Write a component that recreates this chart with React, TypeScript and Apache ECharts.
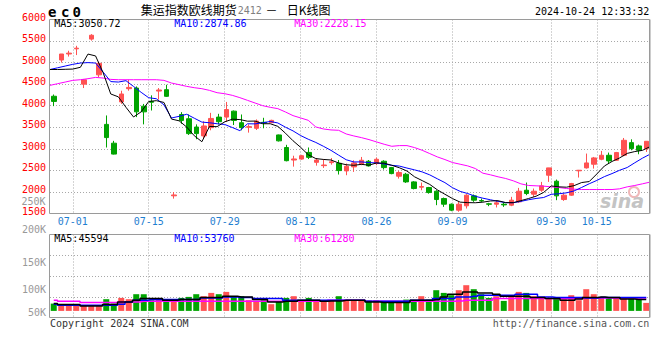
import React, { useEffect, useRef } from "react";
import * as echarts from "echarts";

const dates = [
  "06-26","06-27","06-28",
  "07-01","07-02","07-03","07-04","07-05",
  "07-08","07-09","07-10","07-11","07-12",
  "07-15","07-16","07-17","07-18","07-19",
  "07-22","07-23","07-24","07-25","07-26",
  "07-29","07-30","07-31","08-01","08-02",
  "08-05","08-06","08-07","08-08","08-09",
  "08-12","08-13","08-14","08-15","08-16",
  "08-19","08-20","08-21","08-22","08-23",
  "08-26","08-27","08-28","08-29","08-30",
  "09-02","09-03","09-04","09-05","09-06",
  "09-09","09-10","09-11","09-12","09-13",
  "09-18","09-19","09-20",
  "09-23","09-24","09-25","09-26","09-27",
  "09-30",
  "10-08","10-09","10-10","10-11",
  "10-14","10-15","10-16","10-17","10-18",
  "10-21","10-22","10-23","10-24",
];

const dateTickLabels = ["07-01", "07-15", "07-29", "08-12", "08-26", "09-09", "09-30", "10-15"];
const priceTicks = [1500, 2000, 2500, 3000, 3500, 4000, 4500, 5000, 5500, 6000];
const volumeTicks = [50000, 100000, 150000, 200000];

const opens = [
  4220, 5060, 5200, 5320, 4500, 5545, 4716, 3567, 3131, 4088,
  4395, 4410, 3989, 4100, 4340, 4372, 1910, 3797, 3698, 3506,
  3300, 3491, 3736, 3736, 3874, 3606, 3500, 3476, 3615, 3606,
  3322, 3031, 2740, 2763, 2917, 2687, 2610, 2680, 2664, 2488,
  2581, 2643, 2712, 2658, 2712, 2565, 2365, 2411, 2233, 2110,
  2102, 2017, 1847, 1716, 1577, 1678, 1909, 1800, 1725, 1716,
  1716, 1693, 1770, 2040, 1948, 2040, 2388, 2249, 1824, 1925,
  2490, 2558, 2643, 2758, 2851, 2735, 2851, 3144, 3067, 3005,
];
const closes = [
  4100, 5200, 5220, 5335, 4600, 5635, 4984, 3261, 2878, 4272,
  4425, 3858, 3858, 4080, 4365, 4218, 1930, 3659, 3353, 3353,
  3530, 3705, 3629, 3912, 3659, 3491, 3515, 3644, 3600, 3660,
  3185, 2725, 2765, 2840, 2802, 2740, 2625, 2700, 2495, 2596,
  2673, 2735, 2604, 2758, 2565, 2426, 2450, 2233, 2079, 2125,
  1986, 1824, 1716, 1577, 1716, 1925, 1809, 1790, 1715, 1747,
  1700, 1809, 2017, 1963, 2017, 2141, 2558, 1909, 1925, 2195,
  2503, 2673, 2789, 2851, 2720, 2913, 3198, 3005, 2967, 3175,
];
const lows = [
  3990, 5000, 5140, 5175, 4410, 5510, 4662, 3031, 2870, 4042,
  4348, 3736, 3567, 3889, 4142, 4203, 1845, 3583, 3322, 3223,
  3250, 3430, 3567, 3629, 3552, 3430, 3376, 3437, 3476, 3600,
  3170, 2710, 2587, 2748, 2763, 2610, 2557, 2633, 2404, 2388,
  2465, 2620, 2590, 2620, 2520, 2410, 2310, 2210, 2060, 2040,
  1960, 1693, 1654, 1554, 1540, 1616, 1770, 1770, 1670, 1640,
  1654, 1670, 1747, 1925, 1886, 2002, 2233, 1809, 1793, 1909,
  2334, 2542, 2542, 2735, 2658, 2720, 2828, 2967, 2874, 2928,
];
const highs = [
  4260, 5200, 5275, 5390, 4620, 5660, 5022, 3774, 3185, 4348,
  4601, 4448, 4042, 4241, 4410, 4486, 1998, 3851, 3797, 3567,
  3640, 3835, 3812, 4088, 3889, 3797, 3567, 3682, 3720, 3675,
  3330, 3093, 2840, 2860, 3031, 2786, 2763, 2786, 2740, 2658,
  2735, 2812, 2740, 2797, 2735, 2580, 2488, 2442, 2250, 2218,
  2117, 2040, 1870, 1732, 1770, 1948, 1940, 1847, 1747, 1809,
  1747, 1886, 2094, 2218, 2079, 2233, 2560, 2287, 1963, 2210,
  2510, 2890, 2812, 2951, 2913, 2928, 3252, 3221, 3098, 3175,
];

const ma5 = [
  4840, 4840, 4845, 4850, 4891, 5198, 5155, 4763, 4272, 4206,
  3964, 3739, 3858, 4099, 4117, 4076, 3690, 3650, 3505, 3303,
  3165, 3520, 3514, 3626, 3687, 3679, 3641, 3644, 3582, 3582,
  3521, 3363, 3187, 3035, 2863, 2774, 2754, 2741, 2672, 2631,
  2618, 2640, 2621, 2673, 2667, 2618, 2561, 2486, 2351, 2263,
  2175, 2049, 1946, 1846, 1764, 1752, 1749, 1763, 1791, 1797,
  1752, 1752, 1798, 1847, 1901, 1989, 2139, 2118, 2110, 2146,
  2218, 2241, 2417, 2602, 2707, 2789, 2894, 2937, 2964, 3051,
];
const ma10 = [
  4840, 4880, 4920, 4960, 4990, 5000, 4990, 4780, 4560, 4549,
  4581, 4447, 4311, 4185, 4162, 4020, 3715, 3754, 3802, 3710,
  3620, 3605, 3582, 3565, 3495, 3422, 3581, 3579, 3604, 3635,
  3600, 3502, 3416, 3308, 3223, 3148, 3059, 2964, 2854, 2747,
  2696, 2697, 2681, 2673, 2649, 2618, 2600, 2554, 2512, 2465,
  2396, 2305, 2216, 2098, 2013, 1963, 1899, 1855, 1818, 1781,
  1752, 1750, 1781, 1819, 1849, 1871, 1946, 1958, 1979, 2023,
  2104, 2190, 2267, 2356, 2426, 2503, 2567, 2677, 2783, 2875,
];
const ma30 = [
  4472, 4511, 4549, 4588, 4603, 4627, 4657, 4642, 4611, 4603,
  4603, 4603, 4603, 4603, 4603, 4588, 4526, 4488, 4449, 4418,
  4395, 4356, 4302, 4279, 4241, 4187, 4125, 4063, 4001, 3963,
  3932, 3855, 3770, 3716, 3662, 3507, 3461, 3438, 3430, 3345,
  3299, 3260, 3214, 3160, 3106, 3059, 3075, 3075, 3029, 2967,
  2890, 2813, 2751, 2682, 2643, 2604, 2543, 2435, 2397, 2351,
  2312, 2258, 2188, 2150, 2142, 2134, 2118, 2103, 2080, 2064,
  2056, 2056, 2056, 2056, 2056, 2072, 2118, 2150, 2188, 2228,
];

const volumes = [
  29200, 26800, 22800, 22900, 22600, 18800, 18700, 46800, 29200, 52000,
  46800, 66800, 66700, 42800, 49200, 42700, 36000, 52000, 56000, 66800,
  58800, 72000, 66800, 76000, 56000, 58800, 42800, 36000, 42700, 26800,
  36000, 52000, 58800, 36000, 52000, 42800, 42700, 42800, 58800, 43100,
  42500, 43600, 41900, 42800, 36000, 36200, 35800, 45200, 36000, 58800,
  45200, 82800, 72000, 62800, 82800, 102800, 86800, 66800, 52000, 58800,
  40000, 62800, 76000, 72000, 58800, 49200, 49300, 49100, 46800, 62800,
  42800, 86800, 66800, 52000, 52100, 51900, 49200, 49300, 49100, 32000,
];
const volMa5 = [
  29300, 25300, 25300, 25300, 20000, 20000, 20000, 25300, 25300, 36000,
  36000, 42700, 49300, 49300, 49300, 42700, 42700, 45300, 45300, 45300,
  53300, 53300, 53300, 58700, 58700, 56000, 56000, 45300, 45300, 36000,
  36000, 38700, 38700, 42700, 42700, 42700, 38700, 40000, 40000, 42700,
  42700, 42700, 36000, 36000, 33300, 33300, 33300, 33300, 42700, 42700,
  42700, 45300, 56000, 66700, 66700, 76000, 76000, 72000, 72000, 66700,
  58700, 58700, 58700, 58700, 53300, 53300, 49300, 49300, 42700, 42700,
  48000, 53300, 53300, 56000, 53300, 53300, 48000, 48000, 45600, 45600,
];
const volMa10 = [
  26700, 22700, 22700, 22700, 22700, 22700, 22700, 22700, 22700, 26700,
  36000, 42700, 42700, 45300, 45300, 45300, 45300, 45300, 45300, 45300,
  52000, 52000, 52000, 56000, 56000, 53300, 53300, 49300, 49300, 49300,
  49300, 42700, 42700, 42700, 42700, 42700, 42700, 42700, 42700, 42700,
  42700, 42700, 38700, 38700, 38700, 38700, 38700, 38700, 42700, 42700,
  42700, 49300, 49300, 49300, 56000, 56000, 58700, 62700, 62700, 62700,
  62700, 62700, 66700, 66700, 66700, 56000, 56000, 53300, 53300, 53300,
  53300, 52000, 52000, 53300, 53300, 53300, 53300, 53300, 53300, 53760,
];
const volMa30 = [
  42700, 38700, 38700, 38700, 33300, 33300, 33300, 33300, 33300, 36000,
  36000, 36000, 38700, 38700, 38700, 38700, 38700, 38700, 38700, 38700,
  38700, 38700, 38700, 38700, 38700, 38700, 38700, 38700, 38700, 38700,
  38700, 38700, 38700, 38700, 38700, 38700, 38700, 42700, 42700, 42700,
  42700, 42700, 38700, 38700, 38700, 38700, 38700, 38700, 38700, 38700,
  38700, 38700, 38700, 38700, 40000, 42700, 42700, 42700, 42700, 49300,
  49300, 49300, 49300, 49300, 49300, 49300, 49300, 49300, 49300, 49300,
  49300, 52000, 52000, 52000, 52000, 52000, 52000, 52000, 52000, 52000,
];

const RED = "#ff5252";
const GREEN = "#00a400";
const GRID = "#a8a8a8";
const FRAME = "#9a9a9a";
const DATE_BLUE = "#1f80d0";
const MONO = '"DejaVu Sans Mono", "Liberation Mono", monospace';
const CJK = '"Noto Sans CJK SC", sans-serif';

function txt(text: string, x: number, y: number, fill: string, opts: any = {}) {
  const fontSize = opts.fontSize ?? 10;
  return {
    type: "text",
    x,
    y,
    z: 20,
    silent: true,
    style: {
      text,
      fill,
      fontSize,
      lineHeight: fontSize,
      fontFamily: opts.fontFamily ?? MONO,
      fontWeight: opts.fontWeight ?? "normal",
      fontStyle: opts.fontStyle ?? "normal",
      align: opts.align ?? "left",
      verticalAlign: "middle",
      opacity: opts.opacity ?? 1,
    },
  };
}

export default function App() {
  const ref = useRef<HTMLDivElement>(null);

  useEffect(() => {
    if (!ref.current) return;
    const chart = echarts.init(ref.current, null, { renderer: "svg" });

    const tickIdx = new Set(dateTickLabels.map((d) => dates.indexOf(d)));
    const showTick = (i: number) => tickIdx.has(i);
    const dotted = { color: GRID, type: [1, 2], width: 1 };

    const candleData = dates.map((_, i) => [opens[i], closes[i], lows[i], highs[i]]);
    const volData = volumes.map((v, i) => ({
      value: v,
      itemStyle: { color: closes[i] >= opens[i] ? RED : GREEN },
    }));

    const option: any = {
      animation: false,
      backgroundColor: "#ffffff",
      grid: [
        { left: 50, top: 19.5, width: 600, height: 194 },
        { left: 50, top: 234.5, width: 600, height: 83 },
      ],
      xAxis: [
        { type: "category", gridIndex: 0, position: "bottom", data: dates, boundaryGap: true, show: false },
        {
          type: "category",
          gridIndex: 0,
          position: "bottom",
          data: dates,
          boundaryGap: false,
          axisLine: { show: false },
          axisTick: { show: false },
          axisLabel: {
            interval: showTick,
            color: DATE_BLUE,
            fontSize: 10,
            lineHeight: 10,
            fontFamily: MONO,
            margin: 3,
          },
          splitLine: { show: true, interval: showTick, lineStyle: dotted },
        },
        { type: "category", gridIndex: 1, position: "bottom", data: dates, boundaryGap: true, show: false },
        {
          type: "category",
          gridIndex: 1,
          position: "bottom",
          data: dates,
          boundaryGap: false,
          axisLine: { show: false },
          axisTick: { show: false },
          axisLabel: { show: false },
          splitLine: { show: true, interval: showTick, lineStyle: dotted },
        },
      ],
      yAxis: [
        {
          type: "value",
          gridIndex: 0,
          position: "left",
          min: priceTicks[0],
          max: priceTicks[priceTicks.length - 1],
          interval: priceTicks[1] - priceTicks[0],
          axisLine: { show: false },
          axisTick: { show: false },
          axisLabel: {
            color: "#ff0000",
            fontSize: 10,
            lineHeight: 5,
            verticalAlign: "bottom",
            fontFamily: MONO,
            margin: 4,
            formatter: (v: number) => String(v),
          },
          splitLine: { show: true, showMinLine: false, showMaxLine: false, lineStyle: dotted },
        },
        { type: "value", gridIndex: 1, position: "left", min: -26400, max: 305600, show: false },
        {
          type: "value",
          gridIndex: 1,
          position: "left",
          min: 0,
          max: 4,
          interval: 1,
          axisLine: { show: false },
          axisTick: { show: false },
          axisLabel: { show: false },
          splitLine: { show: true, showMinLine: false, showMaxLine: false, lineStyle: dotted },
        },
        {
          type: "value",
          gridIndex: 1,
          position: "left",
          offset: 0,
          min: volumeTicks[0],
          max: volumeTicks[volumeTicks.length - 1],
          interval: volumeTicks[1] - volumeTicks[0],
          axisLine: { show: false },
          axisTick: { show: false },
          splitLine: { show: false },
          axisLabel: {
            color: "#999999",
            fontSize: 10,
            lineHeight: 10,
            fontFamily: MONO,
            margin: 4,
            formatter: (v: number) => v / 1000 + "K",
            verticalAlignMinLabel: "bottom",
            verticalAlignMaxLabel: "bottom",
          },
        },
      ],
      series: [
        {
          type: "candlestick",
          xAxisIndex: 0,
          yAxisIndex: 0,
          data: candleData,
          barWidth: 5,
          itemStyle: {
            color: RED,
            color0: GREEN,
            borderColor: RED,
            borderColor0: GREEN,
            borderWidth: 1,
          },
        },
        {
          type: "line", xAxisIndex: 1, yAxisIndex: 0, data: ma30, symbol: "none", silent: true,
          lineStyle: { color: "#ff00ff", width: 1 },
        },
        {
          type: "line", xAxisIndex: 1, yAxisIndex: 0, data: ma10, symbol: "none", silent: true,
          lineStyle: { color: "#0000ff", width: 1 },
        },
        {
          type: "line", xAxisIndex: 1, yAxisIndex: 0, data: ma5, symbol: "none", silent: true,
          lineStyle: { color: "#000000", width: 1 },
        },
        {
          type: "bar", xAxisIndex: 2, yAxisIndex: 1, data: volData, barWidth: 6, silent: true,
        },
        {
          type: "line", xAxisIndex: 2, yAxisIndex: 1, data: volMa30, symbol: "none", step: "middle", silent: true,
          lineStyle: { color: "#ff00ff", width: 1.5 },
        },
        {
          type: "line", xAxisIndex: 2, yAxisIndex: 1, data: volMa10, symbol: "none", step: "middle", silent: true,
          lineStyle: { color: "#0000ff", width: 1.5 },
        },
        {
          type: "line", xAxisIndex: 2, yAxisIndex: 1, data: volMa5, symbol: "none", step: "middle", silent: true,
          lineStyle: { color: "#000000", width: 1.5 },
        },
      ],
      graphic: [
        {
          type: "rect", z: 15, silent: true,
          shape: { x: 49.5, y: 19.5, width: 600, height: 194 },
          style: { fill: "none", stroke: FRAME, lineWidth: 1 },
        },
        {
          type: "rect", z: 15, silent: true,
          shape: { x: 49.5, y: 234.5, width: 600, height: 83 },
          style: { fill: "none", stroke: FRAME, lineWidth: 1 },
        },
        {
          type: "line", z: 15, silent: true,
          shape: { x1: 650, y1: 19.5, x2: 650, y2: 213.5 },
          style: { stroke: FRAME, lineWidth: 1 },
        },
        {
          type: "line", z: 15, silent: true,
          shape: { x1: 650, y1: 234.5, x2: 650, y2: 317.5 },
          style: { stroke: FRAME, lineWidth: 1 },
        },
        // sina watermark
        {
          type: "circle", z: 1, silent: true,
          shape: { cx: 634, cy: 192, r: 5 },
          style: { fill: "none", stroke: "#f0b8b8", lineWidth: 2 },
        },
        txt("sina", 600, 201, "#c4c4c4", { fontSize: 19, fontFamily: "DejaVu Sans", fontWeight: "bold", fontStyle: "italic" }),
        // header
        txt("e", 48, 11.5, "#000000", { fontSize: 14, fontWeight: "bold" }),
        txt("c", 61, 11.5, "#000000", { fontSize: 14, fontWeight: "bold" }),
        txt("0", 72.5, 11.5, "#000000", { fontSize: 14, fontWeight: "bold" }),
        txt("集运指数欧线期货", 140.7, 9.5, "#000000", { fontSize: 12, fontFamily: CJK }),
        txt("2412", 237.7, 10, "#808080", { fontSize: 10 }),
        txt("－", 265.5, 9.5, "#000000", { fontSize: 12, fontFamily: CJK }),
        txt("日K线图", 286.7, 9.5, "#000000", { fontSize: 12, fontFamily: CJK }),
        txt("2024-10-24 12:33:32", 649.3, 11.7, "#000000", { align: "right" }),
        // main MA legend
        txt("MA5:3050.72", 54.3, 23.5, "#000000"),
        txt("MA10:2874.86", 174.3, 23.5, "#0000ff"),
        txt("MA30:2228.15", 294.3, 23.5, "#ff00ff"),
        txt("250K", 45.5, 201.5, "#999999", { align: "right" }),
        // volume MA legend
        txt("MA5:45594", 54.3, 238.5, "#000000"),
        txt("MA10:53760", 174.3, 238.5, "#0000ff"),
        txt("MA30:61280", 294.3, 238.5, "#ff00ff"),
        // footer
        txt("Copyright 2024 SINA.COM", 50, 323.5, "#333333"),
        txt("http://finance.sina.com.cn", 649.3, 323.5, "#555555", { align: "right" }),
      ],
    };

    chart.setOption(option);
    return () => chart.dispose();
  }, []);

  return (
    <div
      ref={ref}
      style={{ position: "absolute", left: 0, top: 0, width: 660, height: 360, background: "#fff" }}
    />
  );
}
